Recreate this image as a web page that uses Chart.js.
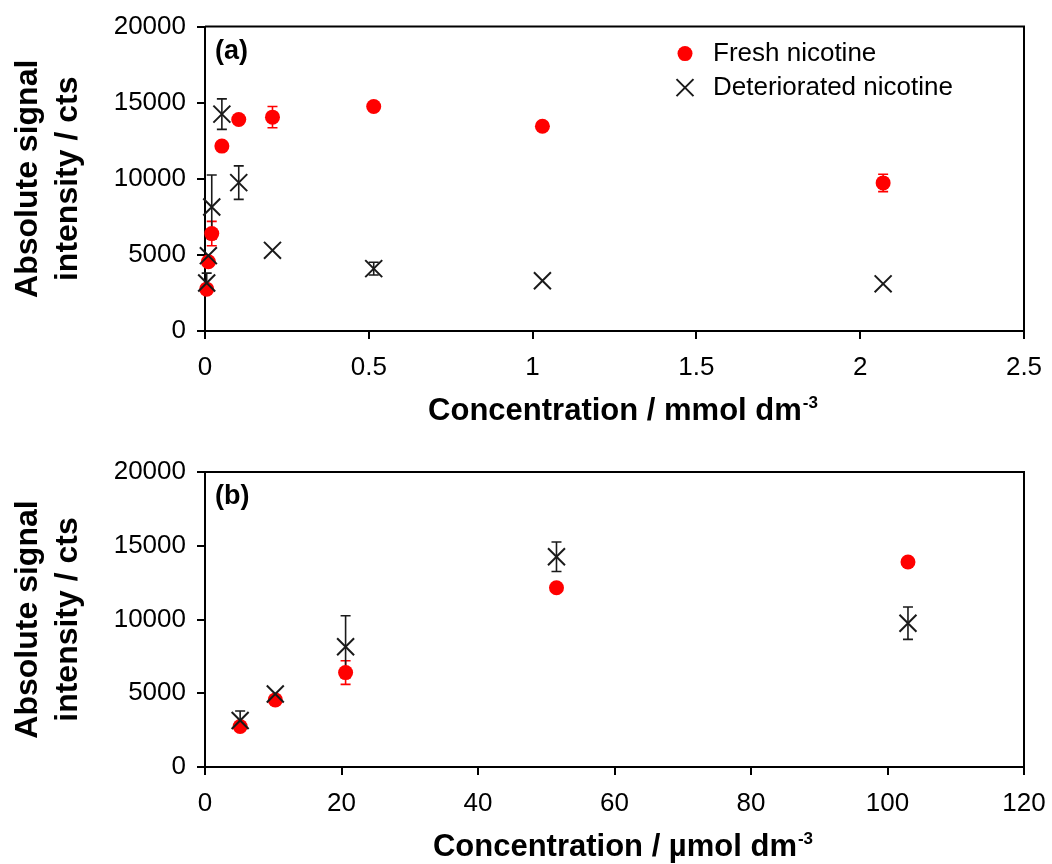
<!DOCTYPE html>
<html>
<head>
<meta charset="utf-8">
<script src="https://cdn.jsdelivr.net/npm/chart.js@4.4.1/dist/chart.umd.min.js"></script>
<style>
  html, body { margin: 0; padding: 0; background: #fff; }
  canvas { display: block; }
</style>
</head>
<body>
<canvas id="chartA" width="1052" height="432"></canvas>
<canvas id="chartB" width="1052" height="432"></canvas>
<script>
// nicotine concentration, µmol dm-3
const concentrations = [5.15, 10.3, 20.6, 51.5, 103, 206, 515, 1030, 2070];
const freshSignal = [2750, 4550, 6400, 12150, 13900, 14050, 14750, 13450, 9730];
const freshError = [250, 250, 800, 250, 250, 700, 200, 200, 570];
const deterioratedSignal = [3150, 4950, 8150, 14250, 9750, 5300, 4100, 3300, 3100];
const deterioratedError = [650, 0, 2100, 1000, 1100, 0, 420, 0, 0];
const yTicks = [0, 5000, 10000, 15000, 20000];
const xTicksA = [0, 0.5, 1, 1.5, 2, 2.5];
const xTicksB = [0, 20, 40, 60, 80, 100, 120];

const FONT = '"Liberation Sans", Arial, sans-serif';
Chart.defaults.font.family = FONT;
Chart.defaults.color = '#000';

// vertical error bars, drawn under the markers
const errorBars = {
  id: 'errorBars',
  beforeDatasetsDraw(chart) {
    const ctx = chart.ctx;
    const y = chart.scales.y;
    chart.data.datasets.forEach((ds, i) => {
      const meta = chart.getDatasetMeta(i);
      ctx.save();
      ctx.strokeStyle = ds.errorColor;
      ctx.lineWidth = 1.6;
      meta.data.forEach((pt, j) => {
        const e = ds.errors[j];
        if (!e) return;
        const hi = y.getPixelForValue(ds.data[j].y + e);
        const lo = y.getPixelForValue(ds.data[j].y - e);
        ctx.beginPath();
        ctx.moveTo(pt.x, hi); ctx.lineTo(pt.x, lo);
        ctx.moveTo(pt.x - 5, hi); ctx.lineTo(pt.x + 5, hi);
        ctx.moveTo(pt.x - 5, lo); ctx.lineTo(pt.x + 5, lo);
        ctx.stroke();
      });
      ctx.restore();
    });
  }
};

// box frame, panel letter, legend and x title with superscript
const panelDecor = {
  id: 'panelDecor',
  afterDraw(chart, args, opts) {
    const {ctx, chartArea: {left, right, top, bottom}} = chart;
    ctx.save();
    ctx.strokeStyle = '#000';
    ctx.lineWidth = 2;
    ctx.beginPath();
    ctx.moveTo(left, top); ctx.lineTo(right, top); ctx.lineTo(right, bottom);
    ctx.stroke();

    ctx.fillStyle = '#000';
    ctx.textAlign = 'left';
    ctx.textBaseline = 'middle';
    ctx.font = 'bold 27px ' + FONT;
    ctx.fillText(opts.letter, left + 10, top + 25);

    if (opts.legend) {
      ctx.font = '26px ' + FONT;
      chart.data.datasets.forEach((ds, i) => {
        const cy = top + 27 + i * 34;
        ctx.save();
        ctx.fillStyle = ds.pointBackgroundColor;
        ctx.strokeStyle = ds.pointBorderColor;
        ctx.lineWidth = ds.pointBorderWidth;
        Chart.helpers.drawPoint(ctx, {
          pointStyle: ds.pointStyle, radius: ds.pointRadius,
          borderWidth: ds.pointBorderWidth, rotation: 0
        }, left + 480, cy);
        ctx.restore();
        ctx.fillText(ds.label, left + 508, cy);
      });
    }

    ctx.textBaseline = 'alphabetic';
    ctx.font = 'bold 31px ' + FONT;
    const mw = ctx.measureText(opts.xTitle).width;
    ctx.font = 'bold 17px ' + FONT;
    const sw = ctx.measureText(opts.xSup).width;
    const x0 = (left + right) / 2 + 8 - (mw + sw) / 2;
    const base = bottom + 89;
    ctx.font = 'bold 31px ' + FONT;
    ctx.fillText(opts.xTitle, x0, base);
    ctx.font = 'bold 17px ' + FONT;
    ctx.fillText(opts.xSup, x0 + mw + 1, base - 12);
    ctx.restore();
  }
};

function datasets(factor, maxX) {
  const idx = concentrations.map((c, i) => i).filter(i => concentrations[i] * factor <= maxX);
  return [
    {
      label: 'Fresh nicotine',
      data: idx.map(i => ({x: concentrations[i] * factor, y: freshSignal[i]})),
      errors: idx.map(i => freshError[i]),
      errorColor: '#ff0000',
      pointStyle: 'circle',
      pointRadius: 7.5,
      pointBackgroundColor: '#ff0000',
      pointBorderColor: '#ff0000',
      pointBorderWidth: 0,
      showLine: false,
      order: 2,
      clip: false
    },
    {
      label: 'Deteriorated nicotine',
      data: idx.map(i => ({x: concentrations[i] * factor, y: deterioratedSignal[i]})),
      errors: idx.map(i => deterioratedError[i]),
      errorColor: '#1a1a1a',
      pointStyle: 'crossRot',
      pointRadius: 12,
      pointBackgroundColor: '#1a1a1a',
      pointBorderColor: '#1a1a1a',
      pointBorderWidth: 2,
      showLine: false,
      order: 1,
      clip: false
    }
  ];
}

function axisGrid() {
  return {display: true, drawOnChartArea: false, drawTicks: true, tickLength: 8,
          color: '#000', lineWidth: 2, tickWidth: 2};
}

function makeChart(id, cfg) {
  return new Chart(document.getElementById(id), {
    type: 'scatter',
    data: {datasets: datasets(cfg.factor, cfg.xTicks[cfg.xTicks.length - 1])},
    options: {
      responsive: false,
      animation: false,
      events: [],
      layout: {padding: {top: cfg.padTop, right: 28, left: 0, bottom: 0}},
      scales: {
        x: {
          type: 'linear',
          min: cfg.xTicks[0],
          max: cfg.xTicks[cfg.xTicks.length - 1],
          afterBuildTicks: s => { s.ticks = cfg.xTicks.map(v => ({value: v})); },
          afterFit: s => { s.height = cfg.xHeight; s.paddingLeft = 0; s.paddingRight = 0; },
          ticks: {font: {size: 26}, padding: 13, maxRotation: 0, callback: v => String(v)},
          grid: axisGrid(),
          border: {display: true, color: '#000', width: 2}
        },
        y: {
          min: yTicks[0],
          max: yTicks[yTicks.length - 1],
          afterBuildTicks: s => { s.ticks = yTicks.map(v => ({value: v})); },
          afterFit: s => { s.width = 205; },
          ticks: {font: {size: 26}, padding: 11, callback: v => String(v)},
          grid: axisGrid(),
          border: {display: true, color: '#000', width: 2},
          title: {
            display: true,
            text: ['Absolute signal', 'intensity / cts'],
            font: {size: 32, weight: 'bold', lineHeight: 1.25},
            padding: {top: 8, bottom: 0},
            color: '#000'
          }
        }
      },
      plugins: {
        legend: {display: false},
        tooltip: {enabled: false},
        panelDecor: {letter: cfg.letter, legend: cfg.legend, xTitle: cfg.xTitle, xSup: '-3'}
      }
    },
    plugins: [errorBars, panelDecor]
  });
}

makeChart('chartA', {
  factor: 0.001, xTicks: xTicksA, padTop: 25, xHeight: 101,
  letter: '(a)', legend: true, xTitle: 'Concentration / mmol dm'
});
makeChart('chartB', {
  factor: 1, xTicks: xTicksB, padTop: 40, xHeight: 97,
  letter: '(b)', legend: false, xTitle: 'Concentration / µmol dm'
});
</script>
</body>
</html>
